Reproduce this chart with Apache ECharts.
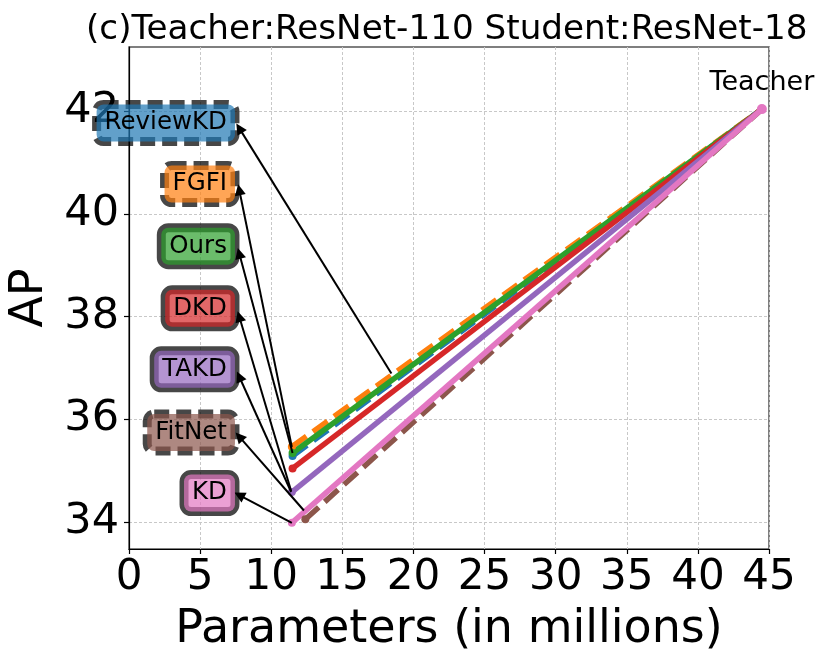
<!DOCTYPE html>
<html>
<head>
<meta charset="utf-8">
<script src="https://cdn.jsdelivr.net/npm/echarts@6/dist/echarts.min.js"></script>
<style>
  html, body { margin: 0; padding: 0; background: #fff; }
  #chart { width: 830px; height: 664px; }
</style>
</head>
<body>
<div id="chart"></div>
<script>
// methods, student end of each line
const methods = ['ReviewKD', 'FGFI', 'Ours', 'DKD', 'TAKD', 'FitNet', 'KD'];
const studentParams = [11.5, 11.45, 11.5, 11.5, 11.45, 12.4, 11.45];
const studentAP = [35.28, 35.46, 35.34, 35.04, 34.58, 34.05, 33.98];
// teacher end, shared by all lines
const teacherParams = 44.5;
const teacherAP = 42.04;
// annotation boxes (data coords) and arrow ends
const labelParams = 7.45;
const labelAP = [41.77, 40.58, 39.37, 38.16, 36.97, 35.74, 34.56];
const arrowFromParams = [18.45, 11.45, 11.5, 11.4, 11.4, 12.3, 11.45];
const arrowFromAP = [36.89, 35.46, 35.34, 34.6, 34.58, 34.22, 33.98];
const arrowToParams = 7.75;
const arrowToAP = [41.67, 40.47, 39.23, 38.0, 36.83, 35.66, 34.52];
const yTicks = [34, 36, 38, 40, 42];

const colors = ['#1f77b4', '#ff7f0e', '#2ca02c', '#d62728', '#9467bd', '#8c564b', '#e377c2'];
const fills = ['rgba(31,119,180,0.7)', 'rgba(255,127,14,0.7)', 'rgba(44,160,44,0.7)', 'rgba(214,39,40,0.7)',
               'rgba(148,103,189,0.7)', 'rgba(140,86,75,0.7)', 'rgba(227,119,194,0.7)'];
const dashed = [true, true, false, false, false, true, false];
const font = 'DejaVu Sans';

let chart = echarts.init(document.getElementById('chart'), null, { renderer: 'canvas' });

let series = methods.map(function (m, i) {
  return {
    name: m,
    type: 'line',
    data: [[studentParams[i], studentAP[i]], [teacherParams, teacherAP]],
    symbol: 'circle',
    symbolSize: 8,
    showSymbol: true,
    itemStyle: { color: colors[i], opacity: 1 },
    lineStyle: { color: colors[i], width: 5.5, type: dashed[i] ? [18, 8] : 'solid', cap: 'butt' },
    animation: false,
    z: 2
  };
});

// arrows from points to the boxes
series.push({
  type: 'lines',
  coordinateSystem: 'cartesian2d',
  data: methods.map(function (m, i) {
    return { coords: [[arrowFromParams[i], arrowFromAP[i]], [arrowToParams, arrowToAP[i]]] };
  }),
  symbol: ['none', 'triangle'],
  symbolSize: [0, 11],
  lineStyle: { color: '#000', width: 2, opacity: 1, curveness: 0 },
  itemStyle: { color: '#000' },
  animation: false,
  silent: true,
  z: 3
});

// annotation boxes
series.push({
  type: 'scatter',
  symbolSize: 0,
  itemStyle: { opacity: 1 },
  data: methods.map(function (m, i) {
    return {
      value: [labelParams, labelAP[i]],
      name: m,
      label: {
        show: true,
        position: 'left',
        distance: 0,
        formatter: m,
        fontFamily: font,
        fontSize: 24.5,
        color: '#000',
        opacity: 1,
        backgroundColor: fills[i],
        borderColor: 'rgba(0,0,0,0.72)',
        borderWidth: 4.5,
        borderType: dashed[i] ? [15, 7] : 'solid',
        borderRadius: 7,
        padding: [7, 8, 5, 8]
      }
    };
  }),
  animation: false,
  silent: true,
  z: 5
});

// teacher label
series.push({
  type: 'scatter',
  symbol: 'circle',
  symbolSize: 10,
  itemStyle: { color: colors[6], opacity: 1 },
  data: [[teacherParams, teacherAP]],
  label: {
    show: true,
    position: 'top',
    distance: 8,
    formatter: 'Teacher',
    fontFamily: font,
    fontSize: 27,
    color: '#000',
    opacity: 1
  },
  animation: false,
  z: 4
});

let option = {
  backgroundColor: '#fff',
  animation: false,
  title: {
    text: '(c)Teacher:ResNet-110 Student:ResNet-18',
    left: 81,
    top: 8,
    textStyle: { fontFamily: font, fontSize: 34.2, fontWeight: 'normal', color: '#000' }
  },
  grid: {
    left: 129, right: 61, top: 47, bottom: 115,
    outerBoundsMode: 'none',
    containLabel: false,
    show: true, borderColor: '#555', borderWidth: 1.5, backgroundColor: 'transparent'
  },
  xAxis: {
    type: 'value',
    min: 0,
    max: 45,
    interval: 5,
    name: 'Parameters (in millions)',
    nameLocation: 'middle',
    nameGap: 58,
    nameTextStyle: { fontFamily: font, fontSize: 46, color: '#000' },
    axisLine: { show: true, onZero: false, lineStyle: { color: '#000', width: 1.2 } },
    axisTick: { show: true, length: 5, lineStyle: { color: '#000', width: 1.2 } },
    axisLabel: { fontFamily: font, fontSize: 42, color: '#000', margin: 8 },
    splitLine: { show: true, lineStyle: { color: '#c8c8c8', width: 1, type: [3, 2] } }
  },
  yAxis: {
    type: 'value',
    min: 33.47,
    max: 43.25,
    name: 'AP',
    nameLocation: 'middle',
    nameGap: 76,
    nameRotate: 90,
    nameTextStyle: { fontFamily: font, fontSize: 46, color: '#000' },
    axisLine: { show: true, onZero: false, lineStyle: { color: '#000', width: 1.2 } },
    axisTick: { show: true, length: 5, customValues: yTicks, lineStyle: { color: '#000', width: 1.2 } },
    axisLabel: { fontFamily: font, fontSize: 43, color: '#000', margin: 10, customValues: yTicks },
    splitLine: { show: true, lineStyle: { color: '#c8c8c8', width: 1, type: [3, 2] } }
  },
  series: series
};

chart.setOption(option);
</script>
</body>
</html>
